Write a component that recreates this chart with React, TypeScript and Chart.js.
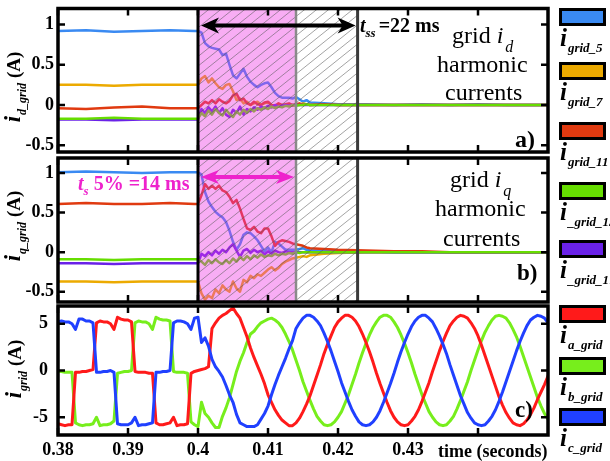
import React, { useEffect, useRef } from 'react';
import { Chart, registerables } from 'chart.js';

Chart.register(...registerables);

const SERIF = "'Liberation Serif', 'Times New Roman', Times, serif";
const CW = 556;
const CH = 461;

// ---------------- data ----------------
// time axis (s) for the harmonic d/q panels
const tAB = [
  0.380, 0.384, 0.388, 0.392, 0.396, 0.3995,
  0.4000, 0.4005, 0.4010, 0.4015, 0.4020, 0.4025, 0.4030, 0.4035, 0.4040, 0.4045,
  0.4050, 0.4055, 0.4060, 0.4065, 0.4070, 0.4075, 0.4080, 0.4085, 0.4090, 0.4095,
  0.4100, 0.4105, 0.4110, 0.4115, 0.4120, 0.4125, 0.4130, 0.4135, 0.4140, 0.4145,
  0.4150, 0.4155, 0.4160,
  0.418, 0.420, 0.424, 0.428, 0.432, 0.436, 0.440, 0.444, 0.450,
];

// panel a) grid i_d harmonic currents (A)
const id5 = [
  0.92, 0.93, 0.91, 0.92, 0.93, 0.92,
  0.92, 0.90, 0.77, 0.73, 0.71, 0.70, 0.69, 0.62, 0.64, 0.50,
  0.37, 0.33, 0.39, 0.45, 0.35, 0.29, 0.25, 0.22, 0.25, 0.27,
  0.28, 0.22, 0.15, 0.11, 0.09, 0.09, 0.09, 0.08, 0.10, 0.07,
  0.04, 0.06, 0.03,
  0.02, 0.01, 0.01, 0.0, 0.01, 0.0, 0.01, 0.0, 0.0,
];
const id7 = [
  0.25, 0.25, 0.24, 0.25, 0.25, 0.25,
  0.25, 0.33, 0.36, 0.28, 0.33, 0.27, 0.22, 0.20, 0.25, 0.26,
  0.17, 0.06, 0.08, 0.02, 0.04, 0.0, 0.02, 0.04, 0.0, 0.02,
  0.03, 0.0, -0.02, 0.01, -0.02, 0.0, 0.01, -0.01, 0.01, 0.0,
  0.02, 0.01, 0.0,
  0.01, 0.0, 0.0, 0.0, 0.0, 0.0, 0.0, 0.0, 0.0,
];
const id11 = [
  -0.04, -0.05, -0.03, -0.02, -0.04, -0.04,
  -0.04, 0.0, 0.04, 0.02, 0.06, 0.02, 0.07, 0.04, 0.02, 0.05,
  0.12, 0.14, 0.06, 0.08, 0.02, 0.0, 0.04, 0.01, 0.0, 0.03,
  0.04, 0.0, -0.01, 0.02, 0.0, 0.01, 0.02, 0.0, 0.01, 0.02,
  0.0, 0.01, 0.0,
  0.01, 0.0, 0.0, 0.0, 0.0, 0.0, 0.0, 0.0, 0.0,
];
const id13 = [
  -0.17, -0.17, -0.16, -0.17, -0.17, -0.17,
  -0.17, -0.10, -0.14, -0.07, -0.12, -0.05, -0.10, -0.13, -0.06, -0.11,
  -0.15, -0.08, -0.12, -0.06, -0.10, -0.05, -0.08, -0.04, -0.06, -0.03,
  -0.05, -0.02, -0.04, -0.02, -0.03, -0.01, -0.02, 0.0, -0.01, 0.0,
  0.0, 0.01, 0.0,
  0.0, 0.0, 0.0, 0.0, 0.0, 0.0, 0.0, 0.0, 0.0,
];
const id17 = [
  -0.18, -0.18, -0.19, -0.18, -0.18, -0.18,
  -0.18, -0.05, -0.10, -0.03, -0.08, -0.02, -0.10, -0.04, -0.12, -0.15,
  -0.06, -0.10, -0.02, -0.12, -0.05, -0.08, -0.03, -0.06, -0.02, -0.04,
  -0.01, -0.03, 0.0, -0.02, -0.01, 0.0, -0.01, 0.0, 0.0, 0.0,
  0.0, 0.0, 0.0,
  0.0, 0.0, 0.0, 0.0, 0.0, 0.0, 0.0, 0.0, 0.0,
];

// panel b) grid i_q harmonic currents (A)
const iq5 = [
  1.01, 1.02, 1.01, 1.0, 1.01, 1.01,
  1.01, 0.98, 0.76, 0.64, 0.57, 0.51, 0.47, 0.44, 0.38, 0.27,
  0.13, 0.03, 0.10, 0.22, 0.25, 0.24, 0.20, 0.15, 0.08, 0.01,
  0.06, 0.0, 0.13, 0.11, 0.07, 0.03, 0.03, 0.03, 0.03, 0.04,
  0.05, 0.03, 0.02,
  0.02, 0.01, 0.01, 0.0, 0.0, 0.0, 0.0, 0.0, 0.0,
];
const iq7 = [
  -0.37, -0.37, -0.38, -0.37, -0.37, -0.37,
  -0.37, -0.52, -0.60, -0.55, -0.58, -0.47, -0.52, -0.42, -0.47, -0.50,
  -0.37, -0.46, -0.50, -0.35, -0.38, -0.30, -0.33, -0.28, -0.30, -0.26,
  -0.22, -0.19, -0.23, -0.20, -0.15, -0.12, -0.10, -0.08, -0.07, -0.06,
  -0.05, -0.06, -0.04,
  -0.02, -0.01, 0.0, 0.0, 0.0, 0.0, 0.0, 0.0, 0.0,
];
const iq11 = [
  0.61, 0.62, 0.61, 0.61, 0.62, 0.61,
  0.61, 0.72, 0.86, 0.80, 0.84, 0.80, 0.84, 0.78, 0.76, 0.70,
  0.62, 0.66, 0.55, 0.42, 0.30, 0.28, 0.32, 0.26, 0.24, 0.30,
  0.30, 0.20, 0.08, 0.13, 0.15, 0.14, 0.13, 0.11, 0.10, 0.09,
  0.08, 0.06, 0.05,
  0.04, 0.03, 0.02, 0.01, 0.01, 0.0, 0.0, 0.0, 0.0,
];
const iq13 = [
  -0.09, -0.09, -0.10, -0.09, -0.09, -0.09,
  -0.09, -0.12, -0.16, -0.10, -0.14, -0.09, -0.13, -0.15, -0.10, -0.14,
  -0.08, -0.12, -0.06, -0.10, -0.05, -0.09, -0.04, -0.07, -0.03, -0.06,
  -0.04, -0.05, -0.02, -0.04, -0.02, -0.03, -0.01, -0.02, 0.0, -0.01,
  0.0, 0.0, 0.0,
  0.0, 0.0, 0.0, 0.0, 0.0, 0.0, 0.0, 0.0, 0.0,
];
const iq17 = [
  -0.14, -0.14, -0.15, -0.14, -0.14, -0.14,
  -0.14, -0.02, -0.05, 0.0, -0.04, 0.02, -0.02, 0.03, 0.0, 0.06,
  0.10, 0.02, -0.06, 0.02, 0.04, -0.01, 0.03, 0.0, 0.02, -0.03,
  0.01, -0.02, 0.02, 0.0, -0.01, 0.01, 0.0, 0.0, 0.0, 0.0,
  0.0, 0.0, 0.0,
  0.0, 0.0, 0.0, 0.0, 0.0, 0.0, 0.0, 0.0, 0.0,
];

// panel c) grid phase currents (A)
const tC = [
  0.3800, 0.3805, 0.3810, 0.3815, 0.3820, 0.3825, 0.3830, 0.3835, 0.3840, 0.3845,
  0.3850, 0.3855, 0.3860, 0.3865, 0.3870, 0.3875, 0.3880, 0.3885, 0.3890, 0.3895,
  0.3900, 0.3905, 0.3910, 0.3915, 0.3920, 0.3925, 0.3930, 0.3935, 0.3940, 0.3945,
  0.3950, 0.3955, 0.3960, 0.3965, 0.3970, 0.3975, 0.3980, 0.3985, 0.3990, 0.3995,
  0.4000, 0.4005, 0.4010, 0.4015, 0.4020, 0.4025, 0.4030, 0.4035, 0.4040, 0.4045,
  0.4050, 0.4055, 0.4060, 0.4065, 0.4070, 0.4075, 0.4080, 0.4085, 0.4090, 0.4095,
  0.4100, 0.4105, 0.4110, 0.4115, 0.4120, 0.4125, 0.4130, 0.4135, 0.4140, 0.4145,
  0.4150, 0.4155, 0.4160, 0.4165, 0.4170, 0.4175, 0.4180, 0.4185, 0.4190, 0.4195,
  0.4200, 0.4205, 0.4210, 0.4215, 0.4220, 0.4225, 0.4230, 0.4235, 0.4240, 0.4245,
  0.4250, 0.4255, 0.4260, 0.4265, 0.4270, 0.4275, 0.4280, 0.4285, 0.4290, 0.4295,
  0.4300, 0.4305, 0.4310, 0.4315, 0.4320, 0.4325, 0.4330, 0.4335, 0.4340, 0.4345,
  0.4350, 0.4355, 0.4360, 0.4365, 0.4370, 0.4375, 0.4380, 0.4385, 0.4390, 0.4395,
  0.4400, 0.4405, 0.4410, 0.4415, 0.4420, 0.4425, 0.4430, 0.4435, 0.4440, 0.4445,
  0.4450, 0.4455, 0.4460, 0.4465, 0.4470, 0.4475, 0.4480, 0.4485, 0.4490, 0.4495,
  0.4500,
];
const ia = [
  -5.7, -5.8, -5.9, -5.8, -5.8, -0.2, -0.2, -0.1, -0.1, 0.0,
  0.1, 5.1, 5.3, 5.2, 5.2, 5.0, 4.4, 5.7, 5.5, 5.4,
  5.4, 5.2, -0.1, -0.2, -0.2, -0.2, -0.3, -0.3, -5.6, -5.8,
  -5.8, -5.7, -5.6, -5.0, -5.9, -5.8, -5.8, -5.7, -0.3, -0.1,
  0.0, 0.1, 0.2, 0.4, 4.5, 5.1, 5.6, 5.9, 6.1, 6.4,
  6.7, 6.1, 5.6, 4.6, 3.6, 2.4, 1.4, 0.5, -0.4, -1.4,
  -2.6, -3.4, -4.2, -4.8, -5.3, -5.6, -5.9, -5.9, -5.6, -5.1,
  -4.4, -3.6, -2.7, -1.6, -0.5, 0.6, 1.8, 2.8, 3.7, 4.6,
  5.2, 5.6, 5.9, 5.9, 5.7, 5.3, 4.7, 3.9, 3.0, 2.0,
  0.9, -0.3, -1.4, -2.4, -3.4, -4.3, -5.0, -5.5, -5.8, -5.9,
  -5.8, -5.4, -4.9, -4.2, -3.3, -2.3, -1.3, -0.1, 1.0, 2.1,
  3.1, 4.0, 4.8, 5.3, 5.7, 5.9, 5.8, 5.6, 5.1, 4.5,
  3.7, 2.7, 1.6, 0.5, -0.6, -1.7, -2.8, -3.7, -4.5, -5.1,
  -5.6, -5.8, -5.9, -5.7, -5.3, -4.7, -4.0, -3.1, -2.3, -1.5,
  -0.6,
];
const ib = [
  -0.1, -0.1, -0.2, -0.2, -0.2, -5.6, -5.8, -5.9, -5.8, -5.8,
  -5.7, -5.0, -5.9, -5.8, -5.8, -5.7, -5.4, -0.3, -0.2, -0.1,
  -0.1, 0.0, 5.1, 5.3, 5.2, 5.2, 5.0, 4.4, 5.7, 5.5,
  5.4, 5.4, 5.3, -0.1, -0.2, -0.2, -0.2, -0.3, -5.5, -5.8,
  -6.0, -3.4, -4.6, -5.0, -5.6, -6.1, -6.1, -4.9, -4.0, -2.9,
  -1.5, -0.1, 1.0, 1.9, 3.0, 3.9, 4.2, 4.7, 5.1, 5.3,
  5.5, 5.6, 5.4, 5.1, 4.6, 3.9, 3.1, 2.2, 1.1, 0.0,
  -1.2, -2.2, -3.2, -4.1, -4.9, -5.4, -5.8, -5.9, -5.8, -5.5,
  -5.0, -4.4, -3.5, -2.6, -1.5, -0.4, 0.8, 1.9, 2.9, 3.8,
  4.6, 5.2, 5.7, 5.9, 5.9, 5.7, 5.2, 4.6, 3.8, 2.9,
  1.9, 0.8, -0.4, -1.5, -2.6, -3.5, -4.4, -5.0, -5.5, -5.8,
  -5.9, -5.8, -5.4, -4.9, -4.1, -3.2, -2.2, -1.2, 0.0, 1.1,
  2.2, 3.2, 4.1, 4.8, 5.4, 5.8, 5.9, 5.8, 5.6, 5.1,
  4.4, 3.6, 2.6, 1.5, 0.4, -0.7, -1.8, -2.9, -3.8, -4.6,
  -5.2,
];
const ic = [
  5.2, 5.3, 5.2, 5.2, 5.0, 4.4, 5.5, 5.5, 5.3, 5.3,
  5.1, -0.2, -0.2, -0.1, -0.1, 0.0, -0.2, -5.7, -5.8, -5.8,
  -5.8, -5.6, -5.0, -5.9, -5.8, -5.8, -5.7, -5.6, -0.2, -0.2,
  -0.1, -0.1, 0.0, 5.1, 5.3, 5.3, 5.2, 5.0, 4.4, 5.6,
  5.7, 3.0, 3.5, 2.6, 1.2, 0.4, -0.1, -0.7, -1.6, -2.6,
  -3.4, -4.7, -5.6, -5.8, -6.0, -6.0, -6.0, -5.8, -5.2, -4.6,
  -3.8, -2.6, -1.5, -0.5, 0.4, 1.3, 2.3, 3.2, 4.5, 5.1,
  5.6, 5.9, 5.9, 5.7, 5.3, 4.8, 4.0, 3.1, 2.1, 1.0,
  -0.1, -1.3, -2.3, -3.3, -4.2, -4.9, -5.5, -5.8, -5.9, -5.8,
  -5.5, -5.0, -4.3, -3.4, -2.4, -1.4, -0.3, 0.9, 2.0, 3.0,
  3.9, 4.7, 5.3, 5.7, 5.9, 5.9, 5.6, 5.2, 4.5, 3.7,
  2.8, 1.8, 0.6, -0.5, -1.6, -2.7, -3.6, -4.5, -5.1, -5.6,
  -5.8, -5.9, -5.8, -5.4, -4.9, -4.2, -3.3, -2.3, -1.2, -0.1,
  1.0, 2.1, 3.1, 4.0, 4.8, 5.4, 5.7, 5.9, 5.8, 5.6,
  5.1,
];

// ticks / labels
const xTickVals = [0.38, 0.39, 0.4, 0.41, 0.42, 0.43, 0.44];
const xTickLabels = ['0.38', '0.39', '0.4', '0.41', '0.42', '0.43', ''];
const xAxisTitle = 'time (seconds)';
const yTicksAB = [-0.5, 0, 0.5, 1];
const yTickLabelsAB = ['-0.5', '0', '0.5', '1'];
const yTicksC = [-5, 0, 5];
const yTickLabelsC = ['-5', '0', '5'];

// event instants (s) and arrow heights (A)
const tStep = 0.4;
const tSettle5 = 0.414;
const tSteady = 0.4228;
const arrowLevelA = 0.99;
const arrowLevelB = 0.95;

const harmNames = ['grid_5', 'grid_7', 'grid_11', '_grid_13', '_grid_17'];
const phaseNames = ['a_grid', 'b_grid', 'c_grid'];

// ---------------- styles ----------------
const C5 = '#3a8af2';
const C7 = '#ecaa00';
const C11 = '#e03a10';
const C13 = '#66dd00';
const C17 = '#6a22e8';
const CA = '#ff1a1a';
const CB = '#77ee1c';
const CCc = '#2040ff';
const MAGENTA = '#ee22cc';
const harmColors = [C5, C7, C11, C13, C17];
const phaseColors = [CA, CB, CCc];

const tickFont = { family: SERIF, size: 18, weight: 'bold' as const };

function pts(t: number[], v: number[]) {
  return t.map((tt, i) => ({ x: tt, y: v[i] }));
}
function ds(label: string, t: number[], v: number[], color: string, w: number) {
  return {
    label,
    data: pts(t, v),
    borderColor: color,
    backgroundColor: color,
    borderWidth: w,
    pointRadius: 0,
    fill: false,
    tension: 0,
    borderJoinStyle: 'round' as const,
    borderCapStyle: 'round' as const,
  };
}

function dblArrow(ctx: CanvasRenderingContext2D, x0: number, x1: number, y: number, color: string, lw: number, hl: number, hh: number) {
  ctx.save();
  ctx.strokeStyle = color;
  ctx.fillStyle = color;
  ctx.lineWidth = lw;
  ctx.beginPath();
  ctx.moveTo(x0 + hl * 0.7, y);
  ctx.lineTo(x1 - hl * 0.7, y);
  ctx.stroke();
  ctx.beginPath();
  ctx.moveTo(x0, y);
  ctx.lineTo(x0 + hl, y - hh / 2);
  ctx.lineTo(x0 + hl * 0.72, y);
  ctx.lineTo(x0 + hl, y + hh / 2);
  ctx.closePath();
  ctx.fill();
  ctx.beginPath();
  ctx.moveTo(x1, y);
  ctx.lineTo(x1 - hl, y - hh / 2);
  ctx.lineTo(x1 - hl * 0.72, y);
  ctx.lineTo(x1 - hl, y + hh / 2);
  ctx.closePath();
  ctx.fill();
  ctx.restore();
}

const decoPlugin = {
  id: 'deco',
  afterDatasetsDraw(chart: any, _args: any, opts: any) {
    const { ctx, chartArea: a, scales } = chart;
    const xs = scales.x;
    const ys = scales.y;
    const h = a.bottom - a.top;
    ctx.save();
    ctx.beginPath();
    ctx.rect(a.left, a.top, a.right - a.left, h);
    ctx.clip();
    if (opts.pink) {
      const x0 = xs.getPixelForValue(opts.pink[0]);
      const x1 = xs.getPixelForValue(opts.pink[1]);
      ctx.fillStyle = 'rgba(238,50,228,0.40)';
      ctx.fillRect(x0, a.top, x1 - x0, h);
    }
    if (opts.hatch) {
      const x0 = xs.getPixelForValue(opts.hatch[0]);
      const x1 = xs.getPixelForValue(opts.hatch[1]);
      ctx.save();
      ctx.beginPath();
      ctx.rect(x0, a.top, x1 - x0, h);
      ctx.clip();
      ctx.strokeStyle = 'rgba(90,90,90,0.55)';
      ctx.lineWidth = 1;
      const run = h * 1.25;
      for (let s = x0 - run; s < x1 + 2; s += 12) {
        ctx.beginPath();
        ctx.moveTo(s, a.bottom);
        ctx.lineTo(s + run, a.top);
        ctx.stroke();
      }
      ctx.restore();
    }
    if (opts.vlines) {
      for (const vl of opts.vlines) {
        const px = xs.getPixelForValue(vl.v);
        ctx.strokeStyle = vl.color;
        ctx.lineWidth = vl.w;
        ctx.beginPath();
        ctx.moveTo(px, a.top);
        ctx.lineTo(px, a.bottom);
        ctx.stroke();
      }
    }
    if (opts.arrow) {
      const ar = opts.arrow;
      const x0 = xs.getPixelForValue(ar.from) + 3;
      const x1 = xs.getPixelForValue(ar.to) - 2;
      const y = ys.getPixelForValue(ar.y);
      dblArrow(ctx, x0, x1, y, ar.color, 4, 18, ar.hh);
    }
    ctx.restore();
  },
  afterDraw(chart: any, _args: any, opts: any) {
    const { ctx, chartArea: a, scales } = chart;
    const xs = scales.x;
    const ys = scales.y;
    ctx.save();
    ctx.strokeStyle = '#000';
    ctx.lineWidth = 2.5;
    const tl = 7;
    for (const v of xTickVals) {
      const px = xs.getPixelForValue(v);
      ctx.beginPath();
      ctx.moveTo(px, a.top);
      ctx.lineTo(px, a.top + tl);
      ctx.moveTo(px, a.bottom);
      ctx.lineTo(px, a.bottom - tl);
      ctx.stroke();
    }
    for (const v of opts.yTicks || []) {
      const py = ys.getPixelForValue(v);
      ctx.beginPath();
      ctx.moveTo(a.left, py);
      ctx.lineTo(a.left + tl, py);
      ctx.moveTo(a.right, py);
      ctx.lineTo(a.right - tl, py);
      ctx.stroke();
    }
    ctx.lineWidth = 3.5;
    ctx.strokeRect(a.left, a.top, a.right - a.left, a.bottom - a.top);
    ctx.restore();
  },
};

function yScale(min: number, max: number, vals: number[], labels: string[], pad: number) {
  return {
    type: 'linear' as const,
    min,
    max,
    afterBuildTicks: (s: any) => {
      s.ticks = vals.map((v) => ({ value: v }));
    },
    afterFit: (s: any) => {
      s.width = 58;
      s.paddingTop = 0;
      s.paddingBottom = 0;
    },
    ticks: {
      font: tickFont,
      color: '#000',
      padding: pad,
      callback: (v: any) => {
        const i = vals.indexOf(Number(v));
        return i >= 0 ? labels[i] : '';
      },
    },
    grid: { display: false, drawTicks: false },
    border: { display: false },
  };
}

function baseOptions(top: number, bottom: number) {
  return {
    responsive: false,
    animation: false as const,
    events: [],
    layout: { padding: { left: 0, right: CW - 548, top, bottom } },
    elements: { point: { radius: 0 } },
  };
}

function cfgA(): any {
  return {
    type: 'line',
    data: {
      datasets: [
        ds('i_grid_13', tAB, id13, C13, 2.5),
        ds('i_grid_17', tAB, id17, C17, 2.5),
        ds('i_grid_11', tAB, id11, C11, 2.5),
        ds('i_grid_7', tAB, id7, C7, 2.5),
        ds('i_grid_5', tAB, id5, C5, 2.5),
      ],
    },
    options: {
      ...baseOptions(8.5, CH - 152),
      plugins: {
        legend: { display: false },
        tooltip: { enabled: false },
        deco: {
          pink: [tStep, tSettle5],
          hatch: [tStep, tSteady],
          vlines: [
            { v: tStep, color: '#000', w: 3 },
            { v: tSettle5, color: '#8a8a8a', w: 2.5 },
            { v: tSteady, color: '#3a3a3a', w: 3 },
          ],
          arrow: { from: tStep, to: tSteady, y: arrowLevelA, color: '#000', hh: 16 },
          yTicks: yTicksAB,
        },
      },
      scales: {
        x: { type: 'linear', min: 0.38, max: 0.45, display: false },
        y: yScale(-0.585, 1.2, yTicksAB, yTickLabelsAB, 4),
      },
    },
    plugins: [decoPlugin],
  };
}

function cfgB(): any {
  return {
    type: 'line',
    data: {
      datasets: [
        ds('i_grid_13', tAB, iq13, C13, 2.5),
        ds('i_grid_17', tAB, iq17, C17, 2.5),
        ds('i_grid_11', tAB, iq11, C11, 2.5),
        ds('i_grid_5', tAB, iq5, C5, 2.5),
        ds('i_grid_7', tAB, iq7, C7, 2.5),
      ],
    },
    options: {
      ...baseOptions(158, CH - 302),
      plugins: {
        legend: { display: false },
        tooltip: { enabled: false },
        deco: {
          pink: [tStep, tSettle5],
          hatch: [tStep, tSteady],
          vlines: [
            { v: tStep, color: '#000', w: 3 },
            { v: tSettle5, color: '#8a8a8a', w: 2.5 },
            { v: tSteady, color: '#3a3a3a', w: 3 },
          ],
          arrow: { from: tStep, to: tSettle5, y: arrowLevelB, color: MAGENTA, hh: 14 },
          yTicks: yTicksAB,
        },
      },
      scales: {
        x: { type: 'linear', min: 0.38, max: 0.45, display: false },
        y: yScale(-0.63, 1.19, yTicksAB, yTickLabelsAB, 4),
      },
    },
    plugins: [decoPlugin],
  };
}

function cfgC(): any {
  return {
    type: 'line',
    data: {
      datasets: [
        ds('i_c_grid', tC, ic, CCc, 3),
        ds('i_a_grid', tC, ia, CA, 3),
        ds('i_b_grid', tC, ib, CB, 3),
      ],
    },
    options: {
      ...baseOptions(306, 0),
      plugins: {
        legend: { display: false },
        tooltip: { enabled: false },
        deco: { yTicks: yTicksC },
      },
      scales: {
        x: {
          type: 'linear',
          min: 0.38,
          max: 0.45,
          afterBuildTicks: (s: any) => {
            s.ticks = xTickVals.map((v) => ({ value: v }));
          },
          afterFit: (s: any) => {
            s.height = 26;
            s.paddingLeft = 0;
            s.paddingRight = 0;
          },
          ticks: {
            font: tickFont,
            color: '#000',
            padding: 5,
            autoSkip: false,
            maxRotation: 0,
            minRotation: 0,
            callback: (_v: any, i: number) => xTickLabels[i],
          },
          grid: { display: false, drawTicks: false },
          border: { display: false },
        },
        y: yScale(-6.9, 6.9, yTicksC, yTickLabelsC, 10),
      },
    },
    plugins: [decoPlugin],
  };
}

// ---------------- text helpers ----------------
function T(props: { x: number; base: number; size: number; bold?: boolean; italic?: boolean; color?: string; children: any }) {
  const { x, base, size, bold, italic, color, children } = props;
  return (
    <div
      style={{
        position: 'absolute',
        left: x,
        top: base - 0.8375 * size,
        fontFamily: SERIF,
        fontSize: size,
        lineHeight: `${size}px`,
        fontWeight: bold ? 'bold' : 'normal',
        fontStyle: italic ? 'italic' : 'normal',
        color: color || '#000',
        whiteSpace: 'nowrap',
      }}
    >
      {children}
    </div>
  );
}

function Sub(props: { size: number; dy: number; children: any; italic?: boolean; ml?: number }) {
  return (
    <span
      style={{
        fontSize: props.size,
        position: 'relative',
        top: props.dy,
        fontStyle: props.italic === false ? 'normal' : 'italic',
        marginLeft: props.ml || 0,
      }}
    >
      {props.children}
    </span>
  );
}

function YTitle(props: { cx: number; cy: number; sub: string }) {
  return (
    <div
      style={{
        position: 'absolute',
        left: props.cx,
        top: props.cy,
        transform: 'translate(-50%, -50%) rotate(-90deg)',
        fontFamily: SERIF,
        fontWeight: 'bold',
        fontSize: 19,
        lineHeight: '22px',
        whiteSpace: 'nowrap',
        color: '#000',
      }}
    >
      <span style={{ fontStyle: 'italic', fontSize: 23 }}>i</span>
      <Sub size={12} dy={6} ml={1}>{props.sub}</Sub>
      <span> (A)</span>
    </div>
  );
}

const legendTops = [8, 62, 122, 182, 240, 305, 357, 408];

export default function App() {
  const refA = useRef<HTMLCanvasElement>(null);
  const refB = useRef<HTMLCanvasElement>(null);
  const refC = useRef<HTMLCanvasElement>(null);

  useEffect(() => {
    const charts = [
      new Chart(refA.current as HTMLCanvasElement, cfgA()),
      new Chart(refB.current as HTMLCanvasElement, cfgB()),
      new Chart(refC.current as HTMLCanvasElement, cfgC()),
    ];
    return () => charts.forEach((c) => c.destroy());
  }, []);

  const legend = [
    ...harmNames.map((n, i) => ({ n, c: harmColors[i] })),
    ...phaseNames.map((n, i) => ({ n, c: phaseColors[i] })),
  ];

  const cv = { position: 'absolute' as const, left: 0, top: 0, width: CW, height: CH };

  return (
    <div style={{ position: 'absolute', left: 0, top: 0, width: 610, height: 461, background: '#fff', overflow: 'hidden' }}>
      <canvas ref={refA} width={CW} height={CH} style={cv} />
      <canvas ref={refB} width={CW} height={CH} style={cv} />
      <canvas ref={refC} width={CW} height={CH} style={cv} />

      {/* axis titles */}
      <YTitle cx={14} cy={87} sub="d_grid" />
      <YTitle cx={14} cy={226} sub="q_grid" />
      <YTitle cx={15} cy={369} sub="grid" />
      <T x={438} base={457} size={18} bold>{xAxisTitle}</T>

      {/* panel a annotations */}
      <T x={360} base={32} size={20} bold>
        <i>t</i>
        <Sub size={13} dy={5}>ss</Sub>
        <span style={{ marginLeft: 3 }}>=22 ms</span>
      </T>
      <T x={452} base={43} size={24}>
        grid <i>i</i>
        <Sub size={16} dy={9} ml={2}>d</Sub>
      </T>
      <T x={437} base={72} size={24}>harmonic</T>
      <T x={445} base={100} size={24}>currents</T>
      <T x={515} base={147} size={24} bold>a)</T>

      {/* panel b annotations */}
      <T x={78} base={190} size={20} bold color={MAGENTA}>
        <i>t</i>
        <Sub size={13} dy={5}>s</Sub>
        <span> 5% =14 ms</span>
      </T>
      <T x={450} base={187} size={24}>
        grid <i>i</i>
        <Sub size={16} dy={9} ml={2}>q</Sub>
      </T>
      <T x={435} base={216} size={24}>harmonic</T>
      <T x={443} base={246} size={24}>currents</T>
      <T x={517} base={280} size={23} bold>b)</T>

      {/* panel c annotation */}
      <T x={515} base={417} size={23} bold>c)</T>

      {/* legend */}
      {legend.map((it, i) => (
        <React.Fragment key={it.n}>
          <div
            style={{
              position: 'absolute',
              left: 559,
              top: legendTops[i],
              width: 47,
              height: 18,
              boxSizing: 'border-box',
              border: '3px solid #000',
              background: it.c,
            }}
          />
          <T x={560} base={legendTops[i] + 38} size={25} bold italic>
            i<Sub size={13} dy={6} ml={1}>{it.n}</Sub>
          </T>
        </React.Fragment>
      ))}
    </div>
  );
}
